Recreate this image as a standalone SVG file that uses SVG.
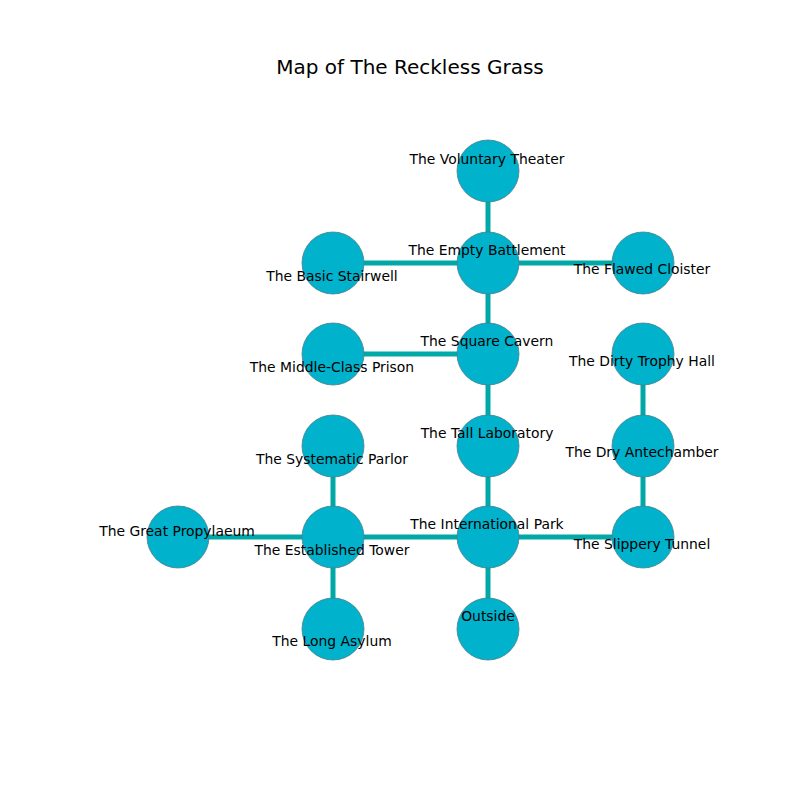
<svg xmlns="http://www.w3.org/2000/svg" width="800" height="800" viewBox="0 0 800 800">
  <style>
    .edge { stroke: #00a8a8; stroke-width: 5; fill: none; }
    .node circle { fill: #00b2cb; stroke: #4d7f8c; stroke-width: 0.8; }
    .node text, .title { font-family: "DejaVu Sans", sans-serif; fill: #000; text-anchor: middle; dominant-baseline: central; }
    .node text { font-size: 13.9px; }
    .title { font-size: 20px; }
  </style>
  <rect width="800" height="800" fill="#fff"/>
  <text class="title" x="410" y="67">Map of The Reckless Grass</text>

  <g id="edges">
    <line class="edge" x1="488" y1="171" x2="488" y2="263"/>
    <line class="edge" x1="333" y1="263" x2="488" y2="263"/>
    <line class="edge" x1="488" y1="263" x2="643" y2="263"/>
    <line class="edge" x1="488" y1="263" x2="488" y2="354"/>
    <line class="edge" x1="333" y1="354" x2="488" y2="354"/>
    <line class="edge" x1="488" y1="354" x2="488" y2="446"/>
    <line class="edge" x1="488" y1="446" x2="488" y2="537"/>
    <line class="edge" x1="643" y1="354" x2="643" y2="446"/>
    <line class="edge" x1="643" y1="446" x2="643" y2="537"/>
    <line class="edge" x1="488" y1="537" x2="643" y2="537"/>
    <line class="edge" x1="333" y1="446" x2="333" y2="537"/>
    <line class="edge" x1="178" y1="537" x2="333" y2="537"/>
    <line class="edge" x1="333" y1="537" x2="488" y2="537"/>
    <line class="edge" x1="333" y1="537" x2="333" y2="629"/>
    <line class="edge" x1="488" y1="537" x2="488" y2="629"/>
  </g>

  <g id="voluntary-theater" class="node"><circle cx="488" cy="171" r="31"/><text x="487" y="159">The Voluntary Theater</text></g>
  <g id="empty-battlement" class="node"><circle cx="488" cy="263" r="31"/><text x="487" y="250">The Empty Battlement</text></g>
  <g id="basic-stairwell" class="node"><circle cx="333" cy="263" r="31"/><text x="332" y="276">The Basic Stairwell</text></g>
  <g id="flawed-cloister" class="node"><circle cx="643" cy="263" r="31"/><text x="642" y="269">The Flawed Cloister</text></g>
  <g id="square-cavern" class="node"><circle cx="488" cy="354" r="31"/><text x="487" y="341">The Square Cavern</text></g>
  <g id="middle-class-prison" class="node"><circle cx="333" cy="354" r="31"/><text x="332" y="367">The Middle-Class Prison</text></g>
  <g id="dirty-trophy-hall" class="node"><circle cx="643" cy="354" r="31"/><text x="642" y="361">The Dirty Trophy Hall</text></g>
  <g id="tall-laboratory" class="node"><circle cx="488" cy="446" r="31"/><text x="487" y="433">The Tall Laboratory</text></g>
  <g id="dry-antechamber" class="node"><circle cx="643" cy="446" r="31"/><text x="642" y="452">The Dry Antechamber</text></g>
  <g id="systematic-parlor" class="node"><circle cx="333" cy="446" r="31"/><text x="332" y="459">The Systematic Parlor</text></g>
  <g id="great-propylaeum" class="node"><circle cx="178" cy="537" r="31"/><text x="177" y="531">The Great Propylaeum</text></g>
  <g id="established-tower" class="node"><circle cx="333" cy="537" r="31"/><text x="332" y="550">The Established Tower</text></g>
  <g id="international-park" class="node"><circle cx="488" cy="537" r="31"/><text x="487" y="524">The International Park</text></g>
  <g id="slippery-tunnel" class="node"><circle cx="643" cy="537" r="31"/><text x="642" y="544">The Slippery Tunnel</text></g>
  <g id="long-asylum" class="node"><circle cx="333" cy="629" r="31"/><text x="332" y="641">The Long Asylum</text></g>
  <g id="outside" class="node"><circle cx="488" cy="629" r="31"/><text x="488" y="616">Outside</text></g>
</svg>
